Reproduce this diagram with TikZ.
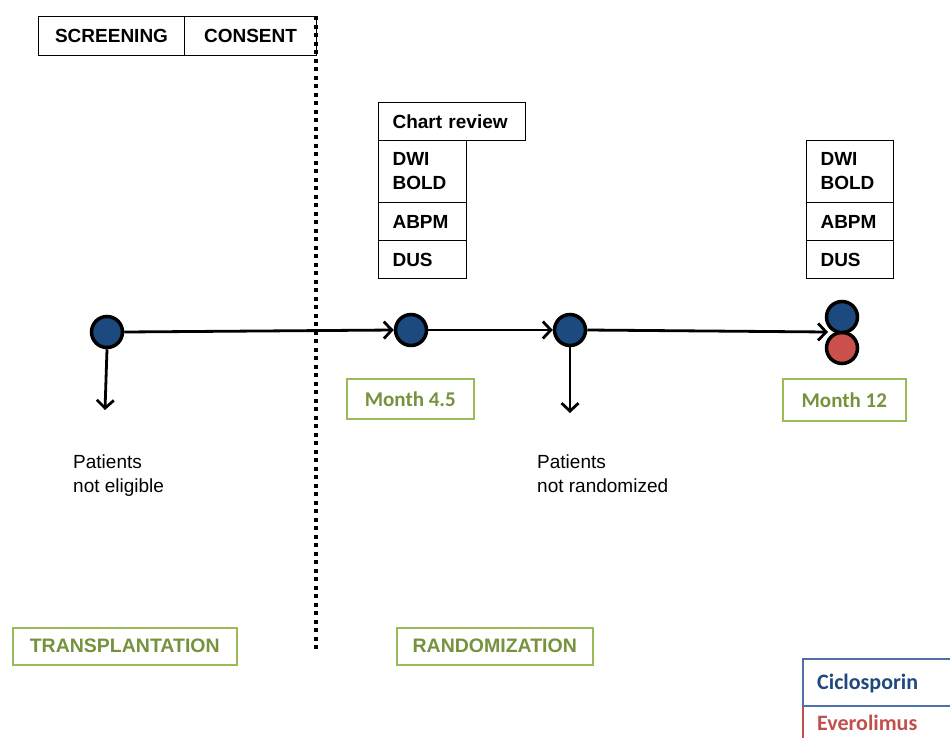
\documentclass[tikz,border=0pt]{standalone}
\usepackage{fontspec}
\setmainfont{Liberation Sans}
\newfontfamily\calfont{Carlito}
\usetikzlibrary{arrows.meta}
\definecolor{dblue}{HTML}{1C4A7E}
\definecolor{dred}{HTML}{C9504B}
\definecolor{lgreen}{HTML}{9BBB59}
\definecolor{tgreen}{HTML}{76923C}
\definecolor{legblue}{HTML}{4F6FA8}
\definecolor{legbluet}{HTML}{1F497D}
\definecolor{legred}{HTML}{C0504D}
\begin{document}
\begin{tikzpicture}[x=1pt,y=-1pt,
  blackbox/.style={draw=black, line width=1.1pt, anchor=north west, inner sep=0pt,
    font=\fontsize{19}{24}\selectfont\bfseries},
  leftbox/.style={blackbox, align=left, inner xsep=14pt, text width=#1},
  greenbox/.style={draw=lgreen, line width=1.5pt, anchor=north west, inner sep=0pt,
    text=tgreen, font=\calfont\fontsize{21}{24}\selectfont\bfseries},
  greencaps/.style={greenbox, font=\fontsize{19.5}{24}\selectfont\bfseries},
  dot/.style={circle, draw=black, line width=3.5pt, minimum size=31pt, inner sep=0pt, fill=dblue},
  arr/.style={line width=2.8pt, -{Straight Barb[length=8pt,width=17pt,line width=2.8pt]}},
  plain/.style={anchor=north west, align=left, inner sep=0pt, font=\fontsize{19}{24}\selectfont},
  legtext/.style={anchor=west, inner sep=0pt, font=\calfont\fontsize{22}{24}\selectfont\bfseries}
]
\useasboundingbox (0,0) rectangle (950,737);
\clip (0,0) rectangle (950,737);

% top boxes
\node[blackbox, minimum width=146pt, minimum height=39pt] (scr) at (38,16) {SCREENING};
\node[blackbox, minimum width=132pt, minimum height=39pt] (con) at (184,16) {CONSENT};

% dotted divider
\coordinate (dtop) at (316,16);
\coordinate (dbot) at (316,652);
\draw[line width=4pt, dash pattern=on 4pt off 4.5pt] (dtop) -- (dbot);

% month 4.5 stack
\node[leftbox=119pt, minimum height=38pt] (cr) at (378,102) {Chart review};
\node[leftbox=60pt, minimum height=62pt] (dw1) at (378,140) {DWI\\BOLD};
\node[leftbox=60pt, minimum height=38pt] (ab1) at (378,202) {ABPM};
\node[leftbox=60pt, minimum height=38pt] (du1) at (378,240) {DUS};

% month 12 stack
\node[leftbox=59pt, minimum height=62pt] (dw2) at (806,140) {DWI\\BOLD};
\node[leftbox=59pt, minimum height=38pt] (ab2) at (806,202) {ABPM};
\node[leftbox=59pt, minimum height=38pt] (du2) at (806,240) {DUS};

% timeline dots
\node[dot] (c1) at (107,332) {};
\node[dot] (c2) at (411,330) {};
\node[dot] (c3) at (570,330) {};
\node[dot, fill=dred] (c4r) at (842,348) {};
\node[dot] (c4b) at (842,317) {};
\coordinate (c4in) at (828,332);

\draw[arr] (c1.east) -- (c2.west);
\draw[arr] (c2.east) -- (c3.west);
\draw[arr] (c3.east) -- (c4in);

\coordinate (e1) at (105,410);
\coordinate (e3) at (570,413);
\draw[arr] (c1.south) -- (e1);
\draw[arr] (c3.south) -- (e3);

% green labels
\node[greenbox, minimum width=127pt, minimum height=40pt] (m45) at (346,378) {Month 4.5};
\node[greenbox, minimum width=123pt, minimum height=42pt] (m12) at (782,378) {Month 12};
\node[greencaps, minimum width=224pt, minimum height=37pt] (tx) at (12,627) {TRANSPLANTATION};
\node[greencaps, minimum width=196pt, minimum height=37pt] (rnd) at (396,627) {RANDOMIZATION};

% patient texts
\node[plain] (p1) at (73,455) {Patients\\not eligible};
\node[plain] (p2) at (537,455) {Patients\\not randomized};

% legend
\draw[legred, line width=1.3pt] (803,706) rectangle (980,780);
\draw[legblue, line width=1.3pt] (803,659) rectangle (980,706);
\node[legtext, text=legbluet] (lc) at (817,683) {Ciclosporin};
\node[legtext, text=legred] (le) at (817,723) {Everolimus};
\end{tikzpicture}
\end{document}
